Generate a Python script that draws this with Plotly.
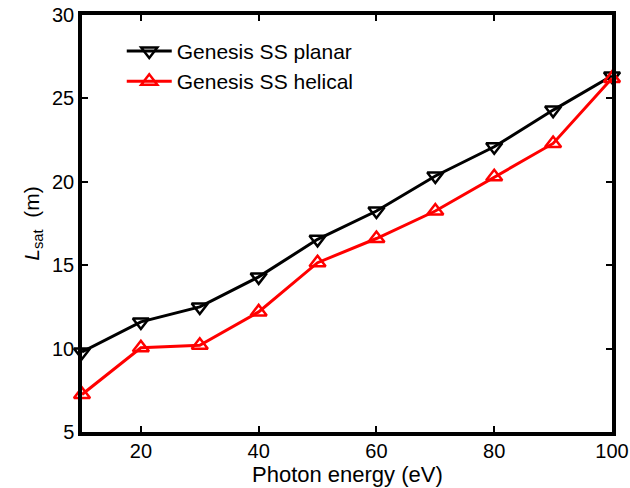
import plotly.graph_objects as go

energy = [10, 20, 30, 40, 50, 60, 70, 80, 90, 100]
planar = [9.8, 11.6, 12.5, 14.3, 16.55, 18.25, 20.35, 22.1, 24.3, 26.35]
helical = [7.25, 10.05, 10.2, 12.2, 15.15, 16.6, 18.25, 20.3, 22.3, 26.2]

FONT = "Liberation Sans"

fig = go.Figure()
fig.add_trace(go.Scatter(
    x=energy, y=planar, mode="lines+markers", name="Genesis SS planar",
    line=dict(color="black", width=3),
    marker=dict(symbol="triangle-down-open", size=14, color="black", line=dict(width=2.5)),
    cliponaxis=False))
fig.add_trace(go.Scatter(
    x=energy, y=helical, mode="lines+markers", name="Genesis SS helical",
    line=dict(color="red", width=3),
    marker=dict(symbol="triangle-up-open", size=14, color="red", line=dict(width=2.5)),
    cliponaxis=False))

axis_common = dict(showline=True, linewidth=3.5, linecolor="black", mirror="ticks",
                   ticks="inside", ticklen=6, tickwidth=2, tickcolor="black",
                   showgrid=False, zeroline=False, automargin=False,
                   tickfont=dict(family=FONT, size=20, color="black"))

fig.update_xaxes(range=[10, 100], tickvals=[20, 40, 60, 80, 100],
                 ticklabelstandoff=-2, **axis_common)
fig.update_yaxes(range=[5, 30], tickvals=[5, 10, 15, 20, 25, 30],
                 title=dict(text="<i>L</i><sub>sat</sub>  (m)", font=dict(family=FONT, size=21, color="black"), standoff=8),
                 **axis_common)

fig.add_annotation(text="Photon energy (eV)", xref="paper", yref="paper",
                   x=0.5, y=-0.102, xanchor="center", yanchor="middle",
                   showarrow=False, font=dict(family=FONT, size=22, color="black"))

fig.update_layout(
    width=630, height=488,
    margin=dict(l=82, r=18, t=15, b=56, autoexpand=False),
    paper_bgcolor="white", plot_bgcolor="white",
    showlegend=True,
    legend=dict(x=0.075, y=0.962, xanchor="left", yanchor="top",
                font=dict(family=FONT, size=21, color="black"),
                bgcolor="rgba(0,0,0,0)", itemwidth=45, tracegroupgap=0),
)

fig.write_html("out.html")
